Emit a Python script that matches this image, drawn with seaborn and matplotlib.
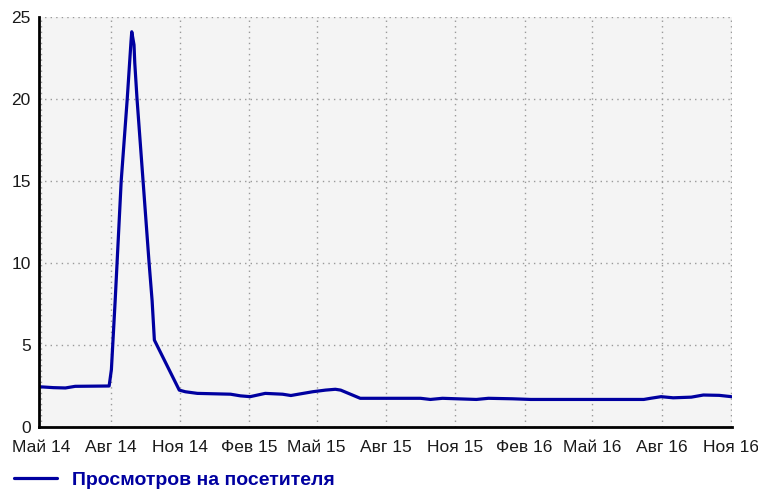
import matplotlib
matplotlib.use("Agg")
import matplotlib.pyplot as plt
import seaborn as sns
import pandas as pd

dates = ["2014-04-30", "2014-05-17", "2014-06-02", "2014-06-15", "2014-07-30",
         "2014-08-02", "2014-08-07", "2014-08-15", "2014-08-23", "2014-08-28",
         "2014-08-29", "2014-09-01", "2014-09-02", "2014-09-05", "2014-09-13",
         "2014-09-21", "2014-09-25", "2014-09-28", "2014-10-31", "2014-11-08",
         "2014-11-24", "2015-01-07", "2015-01-20", "2015-02-02", "2015-02-22",
         "2015-03-17", "2015-03-28", "2015-04-07", "2015-04-26", "2015-05-13",
         "2015-05-26", "2015-06-02", "2015-06-28", "2015-09-16", "2015-09-29",
         "2015-10-15", "2015-11-16", "2015-11-29", "2015-12-15", "2016-01-16",
         "2016-02-09", "2016-07-08", "2016-07-17", "2016-07-31", "2016-08-16",
         "2016-09-09", "2016-09-25", "2016-10-16", "2016-11-01"]
values = [2.45, 2.40, 2.38, 2.48, 2.50,
          3.5, 7.7, 15.0, 20.0, 23.5,
          24.1, 23.3, 22.2, 20.0, 15.0,
          10.0, 7.7, 5.3, 2.25, 2.15,
          2.05, 2.0, 1.9, 1.85, 2.05,
          2.0, 1.92, 2.0, 2.15, 2.25,
          2.3, 2.25, 1.75, 1.75, 1.68,
          1.75, 1.70, 1.68, 1.75, 1.72,
          1.68, 1.68, 1.75, 1.85, 1.78,
          1.82, 1.95, 1.93, 1.85]

tick_dates = ["2014-05-01", "2014-08-01", "2014-11-01", "2015-02-01", "2015-05-01",
              "2015-08-01", "2015-11-01", "2016-02-01", "2016-05-01", "2016-08-01",
              "2016-11-01"]
tick_labels = ["Май 14", "Авг 14", "Ноя 14", "Фев 15", "Май 15", "Авг 15",
               "Ноя 15", "Фев 16", "Май 16", "Авг 16", "Ноя 16"]
y_ticks = [0, 5, 10, 15, 20, 25]
series_name = "Просмотров на посетителя"

df = pd.DataFrame({"date": pd.to_datetime(dates), "value": values})

sns.set_style("white")
plt.rcParams["font.family"] = ["Liberation Sans", "DejaVu Sans"]

fig = plt.figure(figsize=(7.58, 4.91), dpi=100)
ax = fig.add_axes([39 / 758, 1 - 427 / 491, (732 - 39) / 758, (427 - 17) / 491])
ax.set_facecolor("#f4f4f4")

line_color = "#0000a0"
sns.lineplot(data=df, x="date", y="value", ax=ax, color=line_color,
             linewidth=2.3, label=series_name, legend=False)

ax.set_xlim(pd.Timestamp("2014-04-28"), pd.Timestamp("2016-11-02"))
ax.set_ylim(0, 25)
ax.set_xticks(pd.to_datetime(tick_dates))
ax.set_xticklabels(tick_labels)
ax.set_yticks(y_ticks)
ax.set_yticklabels([str(v) for v in y_ticks])
ax.set_xlabel("")
ax.set_ylabel("")

ax.grid(True, color="#999999", linestyle=(0, (1, 3)), linewidth=1.0)
ax.set_axisbelow(True)

for s in ["top", "right"]:
    ax.spines[s].set_visible(False)
for s in ["left", "bottom"]:
    ax.spines[s].set_color("black")
    ax.spines[s].set_linewidth(2.0)

ax.tick_params(axis="both", colors="black", labelsize=12.5, labelcolor="#1a1a1a")
ax.tick_params(axis="x", length=5, width=1.5, pad=4)
ax.tick_params(axis="y", length=4, width=1.5, pad=2)

handles, labels = ax.get_legend_handles_labels()
leg = fig.legend(handles, labels, loc="lower left", bbox_to_anchor=(0.008, -0.011),
                 borderaxespad=0, frameon=False, handlelength=2.2, handletextpad=0.78,
                 prop={"weight": "bold", "size": 14})
for t in leg.get_texts():
    t.set_color(line_color)

fig.savefig("out.png", dpi=100)
